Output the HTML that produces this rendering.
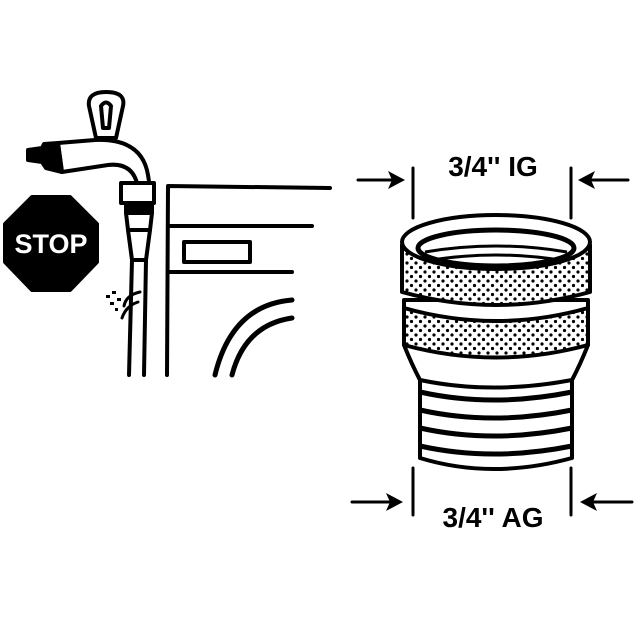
<!DOCTYPE html>
<html><head><style>html,body{margin:0;padding:0;background:#fff}svg{display:block}</style></head>
<body>
<svg width="640" height="640" viewBox="0 0 640 640" xmlns="http://www.w3.org/2000/svg">
<defs>
<pattern id="dots" width="9" height="9" patternUnits="userSpaceOnUse">
<rect width="9" height="9" fill="#fff"/>
<circle cx="2" cy="2" r="1.6" fill="#000"/><circle cx="6.5" cy="6.5" r="1.6" fill="#000"/>
</pattern>
</defs>
<g fill="none" stroke="#000" stroke-width="4" stroke-linecap="round" stroke-linejoin="round">
<polygon points="32,197 70,197 97,224 97,262 70,290 32,290 5,262 5,224" fill="#000"/>
<!-- faucet handle -->
<path d="M96,138 L89,106 Q87,92 106,92 Q126,92 123,106 L116,138 Z" fill="#fff"/>
<path d="M103,128 L101,106 Q106,99 111,106 L109,128 Z"/>
<!-- spout -->
<path d="M58,143 L95,140 Q142,138 148,175 L150,188 L138,188 Q134,162 108,165 L62,172 Z" fill="#fff"/>
<path d="M28,150 L42,148 L44,144 L58,143 L62,172 L46,168 L42,162 L28,160 Z" fill="#000"/>
<!-- coupling -->
<rect x="121" y="183" width="33" height="20" fill="#fff"/>
<rect x="126" y="203" width="26" height="10" fill="#000"/>
<path d="M126,213 L152,213 L150,230 L128,230 Z" fill="#fff"/>
<path d="M128,230 L150,230 L146,260 L132,260 Z" fill="#fff"/>
<line x1="132" y1="260" x2="129" y2="375"/>
<line x1="146" y1="260" x2="144" y2="375"/>
<path d="M140,292 Q126,295 124,306 M138,302 Q126,306 122,318" stroke-width="3"/>
<g fill="#000" stroke="none"><rect x="106" y="295" width="4" height="3"/><rect x="112" y="291" width="4" height="3"/><rect x="110" y="302" width="4" height="3"/><rect x="117" y="298" width="4" height="3"/><rect x="115" y="308" width="3" height="3"/></g>
<polyline points="330,188 168,186 167,375"/>
<line x1="168" y1="226" x2="312" y2="226"/>
<line x1="168" y1="272" x2="292" y2="272"/>
<rect x="184" y="242" width="66" height="20"/>
<path d="M292,300 Q232,305 215,375" stroke-width="5"/>
<path d="M292,318 Q245,325 232,375" stroke-width="5"/>
<line x1="413" y1="168" x2="413" y2="218" stroke-width="3"/>
<line x1="571" y1="168" x2="571" y2="218" stroke-width="3"/>
<line x1="358" y1="180" x2="398" y2="180" stroke-width="3"/>
<line x1="585" y1="180" x2="628" y2="180" stroke-width="3"/>
<line x1="413" y1="468" x2="413" y2="515" stroke-width="3"/>
<line x1="571" y1="468" x2="571" y2="515" stroke-width="3"/>
<line x1="352" y1="502" x2="396" y2="502" stroke-width="3"/>
<line x1="587" y1="502" x2="632" y2="502" stroke-width="3"/>
</g>
<g fill="#000">
<polygon points="405,180 388,171 392,180 388,189"/>
<polygon points="578,180 595,171 591,180 595,189"/>
<polygon points="403,502 386,493 390,502 386,511"/>
<polygon points="580,502 597,493 593,502 597,511"/>
</g>
<g stroke="#000" stroke-width="4" stroke-linejoin="round">
<path d="M420,375 L420,458 Q492,480 572,458 L572,375 Z" fill="#fff"/>
<path d="M420,392 Q492,408 572,392 M420,410 Q492,426 572,410 M420,428 Q492,444 572,428 M420,446 Q492,462 572,446" fill="none" stroke-width="5"/>
<path d="M404,300 L404,345 Q412,365 420,380 Q492,395 572,380 Q580,365 588,345 L588,300 Z" fill="#fff"/>
<path d="M404,308 Q496,334 588,308 L588,345 Q496,370 404,345 Z" fill="url(#dots)"/>
<path d="M402,245 L402,292 Q496,318 590,292 L590,245 Z" fill="url(#dots)"/>
<ellipse cx="496" cy="242" rx="94" ry="27" fill="#fff"/>
<ellipse cx="496" cy="248" rx="78" ry="18" fill="#fff" stroke-width="5"/>
<path d="M425,252 Q496,240 567,252 M432,260 Q496,250 560,260" fill="none" stroke-width="3"/>
</g>
<g font-family="Liberation Sans, sans-serif" font-weight="bold" text-anchor="middle">
<text x="51" y="253" font-size="27" fill="#fff">STOP</text>
<text x="493" y="176" font-size="28" fill="#000">3/4'' IG</text>
<text x="493" y="527" font-size="28" fill="#000">3/4'' AG</text>
</g>
</svg>
</body></html>
